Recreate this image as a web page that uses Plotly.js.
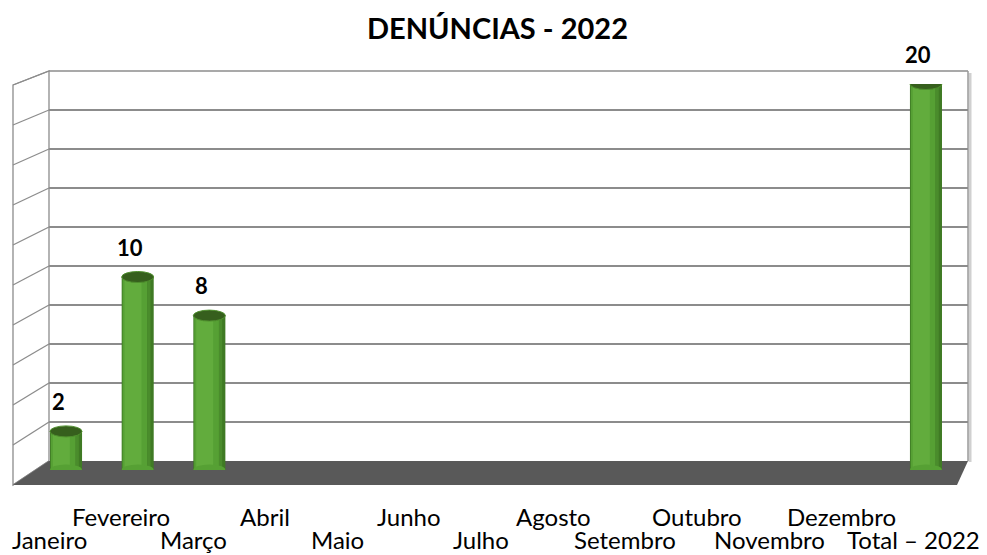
<!DOCTYPE html>
<html>
<head>
<meta charset="utf-8">
<script src="https://cdn.plot.ly/plotly-3.0.1.min.js"></script>
<style>html,body{margin:0;padding:0;background:#fff}#chart{width:987px;height:555px}</style>
</head>
<body>
<div id="chart"></div>
<script>
// ---- data ----
const categories = ["Janeiro","Fevereiro","Março","Abril","Maio","Junho","Julho","Agosto","Setembro","Outubro","Novembro","Dezembro","Total – 2022"];
const values = [2, 10, 8, null, null, null, null, null, null, null, null, null, 20];
const chartTitle = "DENÚNCIAS - 2022";
const yMax = 20;
const yStep = 2;

// ---- helpers ----
const W = 987, H = 555;
const px = x => x / W;
const py = y => 1 - y / H;
const FONT = "Lato, 'Open Sans', sans-serif";

const idx = categories.map((_, i) => i);
const barIdx = idx.filter(i => values[i] !== null && values[i] !== undefined);

// cylinder look: overlaid bars of different widths/offsets
const BW = 0.447;
function layer(off0, off1, color) {
  return {
    type: 'bar', x: categories, y: values, xaxis: 'x2', yaxis: 'y2',
    offset: -BW / 2 + off0, width: off1 - off0,
    marker: {color: color, line: {width: 0}},
    hoverinfo: 'skip', showlegend: false
  };
}
const traces = [
  // back-wall subplot (gridlines only)
  {type: 'scatter', x: [0], y: [null], xaxis: 'x', yaxis: 'y', mode: 'markers', hoverinfo: 'skip', showlegend: false},
  layer(0, BW, '#3f7a24'),
  layer(0.012, BW * 0.80, '#56a034'),
  layer(0.04, BW * 0.62, '#62ac3d'),
  layer(BW * 0.80, BW * 0.90, '#4a8c2c'),
  // label axis helper
  {type: 'scatter', x: categories, y: categories.map(() => null), xaxis: 'x3', yaxis: 'y2', mode: 'markers', hoverinfo: 'skip', showlegend: false}
];

// ---- decorative frame (walls and floor) ----
const shapes = [];
const gray = '#8c8c8c';
function poly(pts, fill, lineColor, lw) {
  const d = pts.map((p, k) => (k ? 'L' : 'M') + px(p[0]) + ',' + py(p[1])).join(' ') + ' Z';
  shapes.push({type: 'path', xref: 'paper', yref: 'paper', path: d, fillcolor: fill,
    line: {color: lineColor || 'rgba(0,0,0,0)', width: lw || 0}, layer: 'below'});
}
function seg(x0, y0, x1, y1, c, w) {
  shapes.push({type: 'line', xref: 'paper', yref: 'paper', x0: px(x0), y0: py(y0), x1: px(x1), y1: py(y1),
    line: {color: c, width: w}, layer: 'below'});
}
// back wall shadow on right edge
seg(970, 73, 970, 462, '#d0d0d0', 3);
// left side wall
poly([[13, 85], [49, 71], [49, 461], [13, 485]], '#ffffff', gray, 1.3);
const nGrid = yMax / yStep;
for (let k = 0; k <= nGrid; k++) {
  seg(13, 85 + 40 * k, 49, 71 + 39 * k, gray, 1.3);
}
// back wall border
seg(49, 71, 968, 71, gray, 1.3);
seg(968, 71, 968, 461, '#9a9a9a', 1.5);
// floor
poly([[49, 461], [968, 461], [957, 485], [13, 485]], '#595959');

// cylinder caps (top ellipse) and rounded bottoms
barIdx.forEach(i => {
  shapes.push({type: 'circle', xref: 'x2', yref: 'y2', xsizemode: 'pixel', ysizemode: 'pixel',
    xanchor: i, yanchor: 0, x0: -16, x1: 16, y0: -5.5, y1: 5.5,
    fillcolor: '#56a034', line: {width: 0}, layer: 'above'});
  shapes.push({type: 'circle', xref: 'x2', yref: 'y2', xsizemode: 'pixel', ysizemode: 'pixel',
    xanchor: i, yanchor: values[i], x0: -16, x1: 16, y0: -5.5, y1: 5.5,
    fillcolor: '#365f1d', line: {color: '#4f8f2e', width: 1}, layer: 'above'});
});

// ---- annotations: data labels and category labels ----
const annotations = [];
barIdx.forEach(i => {
  annotations.push({xref: 'x2', yref: 'y2', x: i, y: values[i], text: '<b>' + values[i] + '</b>',
    showarrow: false, yshift: 30, xshift: -8, yanchor: 'middle',
    font: {family: FONT, size: 22, color: '#000'}});
});
categories.forEach((c, i) => {
  annotations.push({xref: 'x3', yref: 'paper', x: i, y: py(i % 2 === 1 ? 516 : 539), text: c,
    showarrow: false, yanchor: 'middle', xanchor: 'center',
    font: {family: FONT, size: 24, color: '#000'}});
});

const layout = {
  width: W, height: H,
  margin: {l: 0, r: 0, t: 0, b: 0, pad: 0},
  paper_bgcolor: '#ffffff', plot_bgcolor: 'rgba(0,0,0,0)',
  barmode: 'overlay', showlegend: false,
  title: {text: '<b>' + chartTitle + '</b>', x: px(497.5), xanchor: 'center', y: py(29), yanchor: 'middle', yref: 'container',
    font: {family: FONT, size: 29, color: '#000'}},
  // back wall
  xaxis: {domain: [px(49), px(968)], range: [0, 1], visible: false, fixedrange: true},
  yaxis: {domain: [py(461), py(71)], range: [0, yMax], dtick: yStep, tick0: 0, showgrid: true, gridcolor: gray, gridwidth: 1.3,
    zeroline: false, showline: false, ticks: '', showticklabels: false, fixedrange: true},
  // bars
  xaxis2: {domain: [px(30.2), px(961.8)], type: 'category', categoryarray: categories, categoryorder: 'array',
    range: [-0.5, categories.length - 0.5], anchor: 'y2', visible: false, fixedrange: true},
  yaxis2: {domain: [py(470), py(84)], range: [0, yMax], anchor: 'x2', visible: false, showgrid: false, zeroline: false, fixedrange: true},
  // category labels along the front edge
  xaxis3: {domain: [px(13), px(949)], type: 'category', categoryarray: categories, categoryorder: 'array',
    range: [-0.5, categories.length - 0.5], anchor: 'y2', visible: false, fixedrange: true},
  shapes: shapes,
  annotations: annotations,
  hovermode: false
};

Plotly.newPlot('chart', traces, layout, {displayModeBar: false, staticPlot: true});
</script>
</body>
</html>
